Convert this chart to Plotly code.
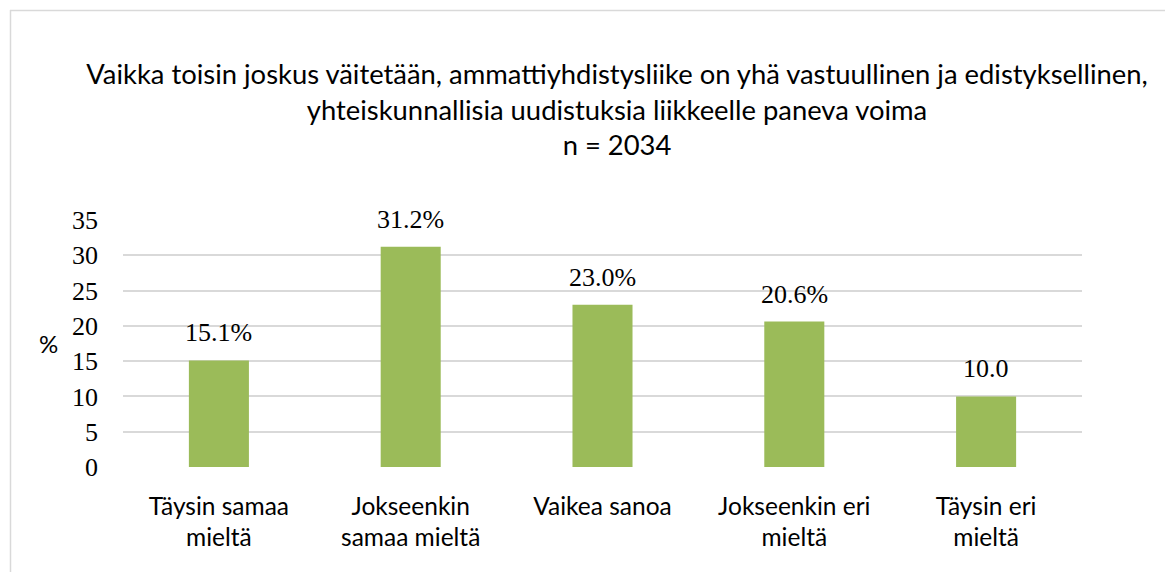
import plotly.graph_objects as go

categories = ["Täysin samaa<br>mieltä", "Jokseenkin<br>samaa mieltä", "Vaikea sanoa",
              "Jokseenkin eri<br>mieltä", "Täysin eri<br>mieltä"]
values = [15.1, 31.2, 23.0, 20.6, 10.0]
value_labels = ["15.1%", "31.2%", "23.0%", "20.6%", "10.0"]
y_ticks = [0, 5, 10, 15, 20, 25, 30, 35]
title_lines = [
    "Vaikka toisin joskus väitetään, ammattiyhdistysliike on yhä vastuullinen ja edistyksellinen,",
    "yhteiskunnallisia uudistuksia liikkeelle paneva voima",
    "n = 2034",
]

W, H = 1173, 572
OFF = 8  # page body margin
ML, MR, MT, MB = 115, 99, 212, 113
SANS = "Lato, 'Open Sans', sans-serif"
SERIF = "'Liberation Serif', 'DejaVu Serif', serif"


def px_to_paper_x(px):
    return (px - OFF - ML) / (W - ML - MR)


def px_to_paper_y(py):
    return (H - MB - (py - OFF)) / (H - MT - MB)


fig = go.Figure()
fig.add_trace(go.Bar(
    x=categories, y=values, width=0.313,
    marker=dict(color="#9BBB59", line=dict(width=0)),
    hoverinfo="skip",
))

annotations = []
for c, v, t in zip(categories, values, value_labels):
    annotations.append(dict(x=c, y=v, xref="x", yref="y", text=t, showarrow=False,
                            yanchor="bottom", yshift=11,
                            font=dict(family=SERIF, size=26, color="#000000")))
annotations.append(dict(x=px_to_paper_x(48), y=0.5, xref="paper", yref="paper", text="%",
                        showarrow=False, xanchor="center", yanchor="middle",
                        font=dict(family=SANS, size=24, color="#000000")))

shapes = [
    dict(type="line", xref="paper", yref="paper",
         x0=px_to_paper_x(10), x1=px_to_paper_x(1190),
         y0=px_to_paper_y(10.5), y1=px_to_paper_y(10.5),
         line=dict(color="#d9d9d9", width=1.5)),
    dict(type="line", xref="paper", yref="paper",
         x0=px_to_paper_x(10.5), x1=px_to_paper_x(10.5),
         y0=px_to_paper_y(10), y1=px_to_paper_y(590),
         line=dict(color="#d9d9d9", width=1.5)),
]

fig.update_layout(
    width=W, height=H,
    margin=dict(l=ML, r=MR, t=MT, b=MB, pad=0),
    paper_bgcolor="white", plot_bgcolor="white",
    showlegend=False,
    title=dict(text="<br>".join(title_lines), x=(617 - OFF) / W, xanchor="center",
               y=1 - (84 - OFF) / H, yanchor="top", xref="container", yref="container",
               font=dict(family=SANS, size=27.4, color="#000000")),
    xaxis=dict(showgrid=False, showline=False, ticks="", ticklabelstandoff=22,
               tickfont=dict(family=SANS, size=24.5, color="#000000")),
    yaxis=dict(range=[0, 35], tickvals=y_ticks, showgrid=True, gridcolor="#d9d9d9",
               gridwidth=1.5, zeroline=False, showline=False, ticks="",
               ticklabelstandoff=24,
               tickfont=dict(family=SERIF, size=26, color="#000000")),
    annotations=annotations,
    shapes=shapes,
)

fig.write_html("out.html")
